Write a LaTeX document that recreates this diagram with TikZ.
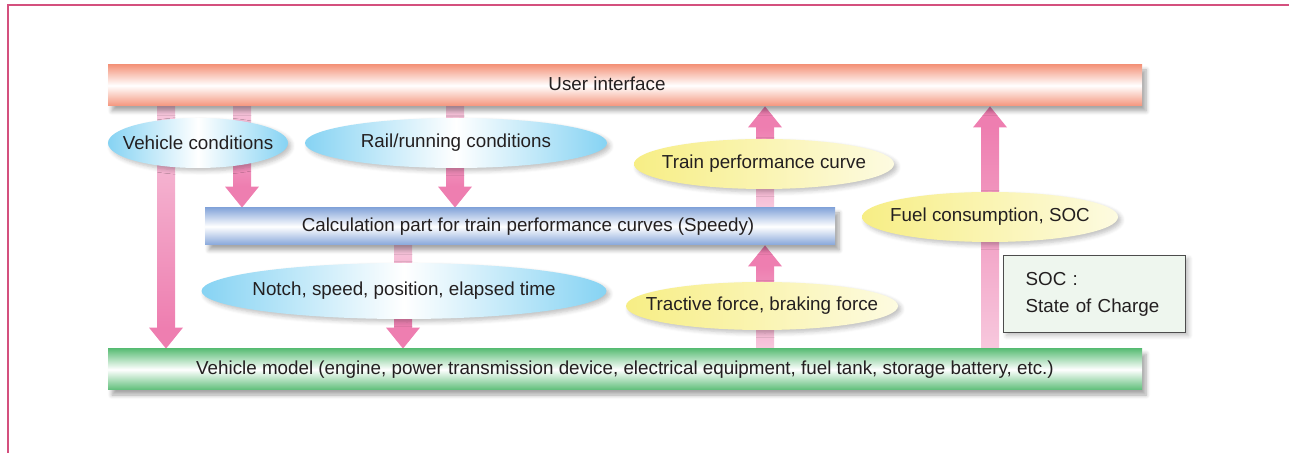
\documentclass[tikz,border=0pt]{standalone}
\usepackage{fontspec}
\setmainfont{Liberation Sans}
\usetikzlibrary{shapes.geometric}
\usetikzlibrary{calc}
\usetikzlibrary{shadows.blur}
\definecolor{framepink}{HTML}{D4507E}
\definecolor{barsalmon}{HTML}{F4957C}
\definecolor{barblue}{HTML}{86A6DA}
\definecolor{bargreen}{HTML}{5DBE78}
\definecolor{ellblue}{HTML}{86D3F3}
\definecolor{ellyellow}{HTML}{F7EE85}
\definecolor{pinklight}{HTML}{F7C8DD}
\definecolor{pinkdark}{HTML}{EE7EB0}
\definecolor{socgreen}{HTML}{EEF6EE}
\definecolor{textgray}{HTML}{231F20}
\pgfdeclarelayer{bg}
\pgfsetlayers{bg,main}
\tikzset{
	bar/.style={rectangle, inner sep=0pt, minimum width=517pt, minimum height=20.5pt,
		blur shadow={shadow xshift=2pt, shadow yshift=-2.5pt, shadow blur steps=6, shadow opacity=35}},
	oval/.style={ellipse, inner sep=0pt, minimum height=25pt,
		blur shadow={shadow xshift=1.5pt, shadow yshift=-1.5pt, shadow blur steps=5, shadow opacity=25}},
	blueoval/.style={oval, left color=ellblue, right color=ellblue, middle color=white},
	yellowoval/.style={oval, left color=ellyellow, right color=ellyellow!25!white},
	socbox/.style={rectangle, draw=black!70, line width=0.6pt, fill=socgreen, align=left,
		inner xsep=11pt, text width=69pt, minimum height=38.5pt, font=\fontsize{9.4}{13.5}\selectfont,
		blur shadow={shadow xshift=1.5pt, shadow yshift=-1.5pt, shadow blur steps=5, shadow opacity=25}},
	shaftdown/.style={top color=pinklight, bottom color=pinkdark},
	shaftup/.style={top color=pinkdark, bottom color=pinklight},
	pinkhead/.style={fill=pinkdark}
}
\newcommand{\pinkarrow}[3]{%
	\coordinate (hb) at ($(#3)!10.5pt!(#2)$);
	\shade[#1] ($(#2)+(-4.5pt,0)$) rectangle ($(hb)+(4.5pt,0)$);
	\fill[pinkhead] ($(hb)+(-8.5pt,0)$) -- ($(hb)+(8.5pt,0)$) -- (#3) -- cycle;
}

\begin{document}
\begin{tikzpicture}[x=0.5pt, y=-0.5pt, font=\fontsize{9.4}{11}\selectfont, text=textgray]
	\useasboundingbox (0,0) rectangle (1289,453);
	\draw[framepink, line width=1pt] (8,453) -- (8,5) -- (1289,5);
	\node[bar, top color=barsalmon, bottom color=barsalmon, middle color=white,
		label={[xshift=-9pt, yshift=0.8pt]center:User interface}] (ui) at (625,85.5) {};
	\node[bar, minimum width=315pt, minimum height=18.5pt, top color=barblue, bottom color=barblue, middle color=white,
		label={[xshift=4pt]center:Calculation part for train performance curves (Speedy)}] (speedy) at (520,226.5) {};
	\node[bar, top color=bargreen, bottom color=bargreen, middle color=white] (vm) at (625,369.5)
		{Vehicle model (engine, power transmission device, electrical equipment, fuel tank, storage battery, etc.)};
	\node[blueoval, minimum width=90pt, label=center:Vehicle conditions] (vehcond) at (198,143) {};
	\node[blueoval, minimum width=151pt, label=center:Rail/running conditions] (railcond) at (456,143) {};
	\node[blueoval, minimum width=202.5pt, minimum height=28pt, label={center:Notch, speed, position, elapsed time}] (notch) at (404,291) {};
	\node[yellowoval, minimum width=130pt, label=center:Train performance curve] (curve) at (764,164) {};
	\node[yellowoval, minimum width=136pt, minimum height=24pt, label={center:Tractive force, braking force}] (force) at (762,306) {};
	\node[yellowoval, minimum width=128pt, label={center:Fuel consumption, SOC}] (fuel) at (990,217) {};
	\node[socbox, anchor=north west] (soc) at (1003,255) {SOC :\\State of Charge};
	\foreach \n/\x in {pa/166, pb/242, pc/455, pd/403, pe/765, pf/990}
		\coordinate (\n) at (\x,0);
	\begin{pgfonlayer}{bg}
		\pinkarrow{shaftdown}{ui.south -| pa}{vm.north -| pa}
		\pinkarrow{shaftdown}{ui.south -| pb}{speedy.north -| pb}
		\pinkarrow{shaftdown}{ui.south -| pc}{speedy.north -| pc}
		\pinkarrow{shaftdown}{speedy.south -| pd}{vm.north -| pd}
		\pinkarrow{shaftup}{speedy.north -| pe}{ui.south -| pe}
		\pinkarrow{shaftup}{vm.north -| pe}{speedy.south -| pe}
		\pinkarrow{shaftup}{vm.north -| pf}{ui.south -| pf}
	\end{pgfonlayer}
\end{tikzpicture}
\end{document}
